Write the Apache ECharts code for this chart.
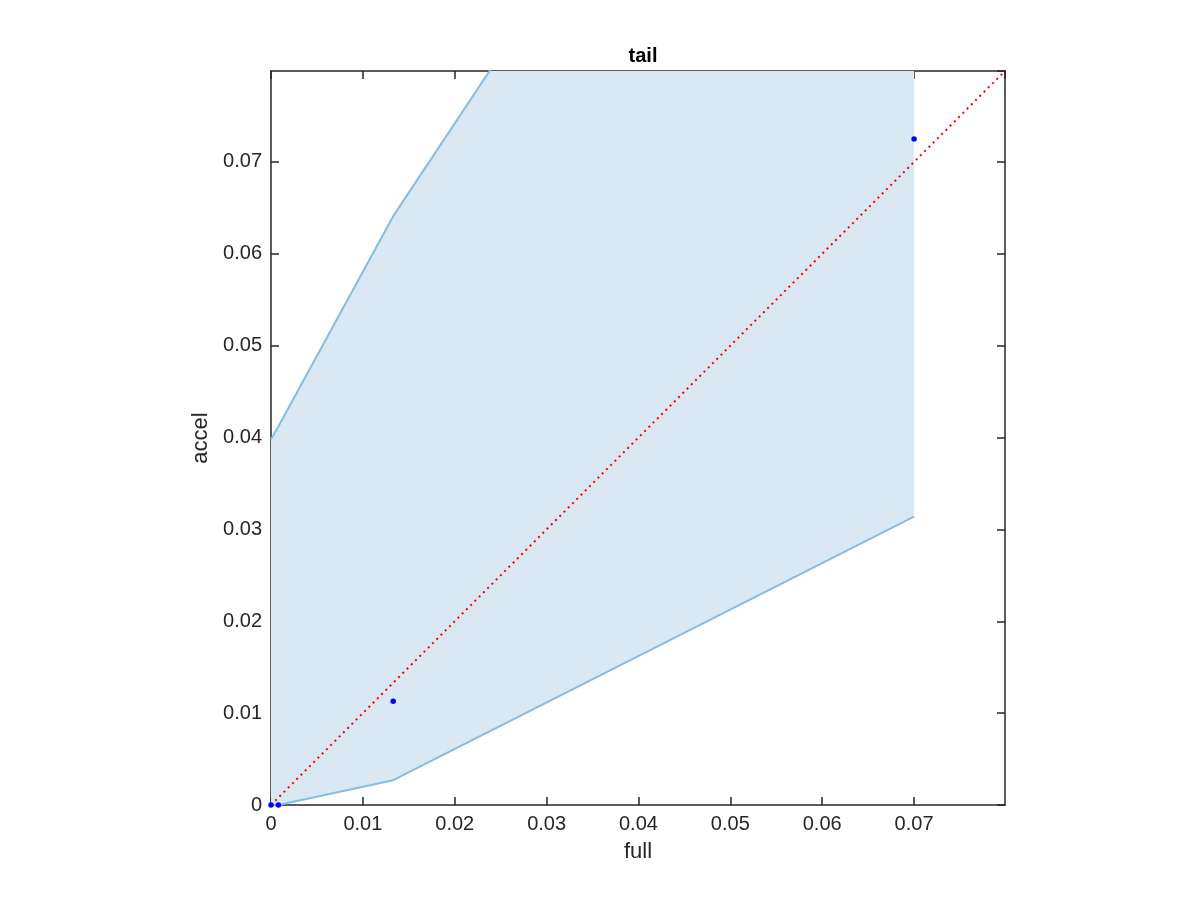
<!DOCTYPE html>
<html>
<head>
<meta charset="utf-8">
<script src="https://cdn.jsdelivr.net/npm/echarts@6/dist/echarts.min.js"></script>
<style>html,body{margin:0;padding:0;background:#fff}#c{width:1200px;height:900px}</style>
</head>
<body>
<div id="c"></div>
<script>
const bandX = [0, 0.0008, 0.0133, 0.07];
const lowerY = [0, 0, 0.0027, 0.0314];
const upperY = [0.0398, 0.0412, 0.0641, 0.1495];
const pointsX = [0, 0.0008, 0.0133, 0.07];
const pointsY = [0, 0, 0.0113, 0.0725];
const diagX = [0, 0.08];
const diagY = [0, 0.08];
const tickLabelFmt = v => (Math.abs(v) < 1e-12 ? '0' : String(+v.toFixed(2)));

const chart = echarts.init(document.getElementById('c'), null, {renderer: 'canvas'});
const font = 'Helvetica, "Liberation Sans", Arial, sans-serif';
const axCol = '#262626';

const baseAxis = {
  type: 'value', min: 0, max: 0.0799, interval: 0.01,
  axisLine: {show: true, onZero: false, lineStyle: {color: axCol, width: 1.5}},
  axisTick: {show: true, inside: true, length: 8, lineStyle: {color: axCol, width: 1.5}},
  splitLine: {show: false}
};

chart.setOption({
  animation: false,
  title: {text: 'tail', left: 638, top: 41, textAlign: 'center',
    textStyle: {fontFamily: font, fontSize: 20, fontWeight: 'bold', color: '#000'}},
  grid: {left: 271, top: 71, right: 195, bottom: 95, containLabel: false},
  xAxis: [
    Object.assign({}, baseAxis, {position: 'bottom', name: 'full', nameLocation: 'middle', nameGap: 36,
      nameTextStyle: {fontFamily: font, fontSize: 22, color: axCol},
      axisLabel: {show: true, fontFamily: font, fontSize: 20, color: axCol, margin: 9, showMaxLabel: false, formatter: tickLabelFmt}}),
    Object.assign({}, baseAxis, {position: 'top', axisLabel: {show: false}})
  ],
  yAxis: [
    Object.assign({}, baseAxis, {position: 'left', name: 'accel', nameLocation: 'middle', nameGap: 56,
      nameTextStyle: {fontFamily: font, fontSize: 22, color: axCol},
      axisLabel: {show: true, fontFamily: font, fontSize: 20, color: axCol, margin: 9, showMaxLabel: false, formatter: tickLabelFmt}}),
    Object.assign({}, baseAxis, {position: 'right', axisLabel: {show: false}})
  ],
  series: [
    {type: 'custom', clip: true, z: 1, silent: true, data: [0],
      renderItem: function (params, api) {
        const pts = [];
        for (let i = 0; i < bandX.length; i++) pts.push(api.coord([bandX[i], upperY[i]]));
        for (let i = bandX.length - 1; i >= 0; i--) pts.push(api.coord([bandX[i], lowerY[i]]));
        return {type: 'polygon', shape: {points: pts}, style: {fill: '#dae8f4', stroke: null}};
      }},
    {type: 'line', data: bandX.map((x, i) => [x, lowerY[i]]),
      symbol: 'none', lineStyle: {color: '#86bde2', width: 2}, z: 2},
    {type: 'line', data: bandX.map((x, i) => [x, upperY[i]]),
      symbol: 'none', lineStyle: {color: '#86bde2', width: 2}, z: 2},
    {type: 'line', data: diagX.map((x, i) => [x, diagY[i]]),
      symbol: 'none', lineStyle: {color: '#ff0000', width: 2, type: [2, 4]}, z: 3},
    {type: 'scatter', data: pointsX.map((x, i) => [x, pointsY[i]]),
      symbol: 'circle', symbolSize: 5.5, itemStyle: {color: '#0000ff', opacity: 1}, z: 4}
  ]
});
</script>
</body>
</html>
